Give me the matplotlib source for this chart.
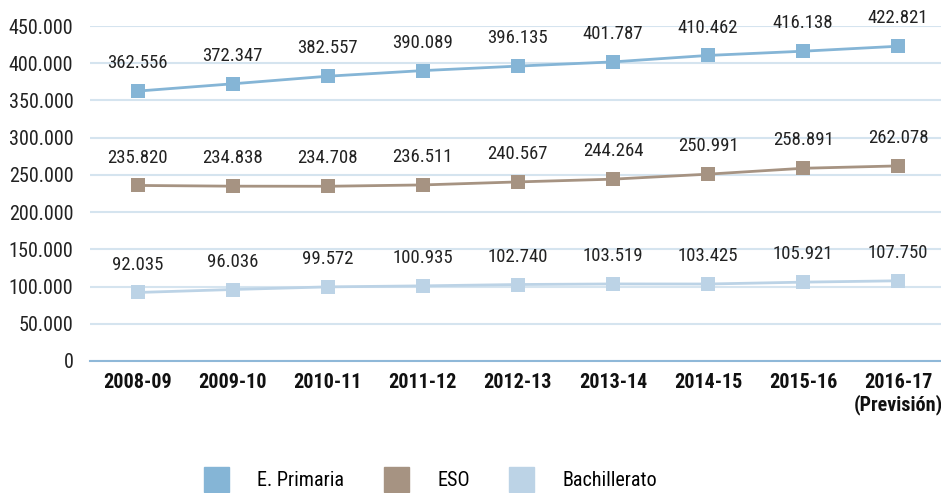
import matplotlib
matplotlib.use("Agg")
import matplotlib.pyplot as plt
from matplotlib.lines import Line2D
from matplotlib import font_manager

names = {f.name for f in font_manager.fontManager.ttflist}
fams = [n for n in ['Roboto Condensed', 'Liberation Sans Narrow', 'Arial Narrow', 'Roboto'] if n in names]
plt.rcParams['font.family'] = fams + ['DejaVu Sans']

categories = ["2008-09", "2009-10", "2010-11", "2011-12", "2012-13", "2013-14",
              "2014-15", "2015-16", "2016-17\n(Previsión)"]
primaria = [362556, 372347, 382557, 390089, 396135, 401787, 410462, 416138, 422821]
eso = [235820, 234838, 234708, 236511, 240567, 244264, 250991, 258891, 262078]
bachillerato = [92035, 96036, 99572, 100935, 102740, 103519, 103425, 105921, 107750]
series_names = ["E. Primaria", "ESO", "Bachillerato"]
colors = ["#85b5d6", "#a69382", "#bcd3e6"]
yticks = [0, 50000, 100000, 150000, 200000, 250000, 300000, 350000, 400000, 450000]

def fmt(v):
    return f"{v:,}".replace(",", ".")

fig = plt.figure(figsize=(9.41, 4.93), dpi=100)
ax = fig.add_axes([90/941, (493-361)/493, 1 - 90/941 + 0.005, (361-26)/493])

x = list(range(len(categories)))
for vals, c in zip([primaria, eso, bachillerato], colors):
    ax.plot(x, vals, color=c, lw=2, marker='s', markersize=10, markeredgewidth=0, zorder=3)
    for xi, v in zip(x, vals):
        ax.annotate(fmt(v), (xi, v), xytext=(0, 20), textcoords='offset points',
                    ha='center', va='center', fontsize=13.5, color='#222222')

ax.set_xlim(-0.5, len(categories) - 0.5)
ax.set_ylim(0, 450000)
ax.set_yticks(yticks)
ax.set_yticklabels([fmt(t) if t else "0" for t in yticks], fontsize=14.5, color='#222222')
ax.set_xticks(x)
ax.set_xticklabels(categories, fontsize=14.5, fontweight='bold', color='#111111', linespacing=1.1)
ax.tick_params(axis='both', length=0)
ax.tick_params(axis='y', pad=12)
ax.tick_params(axis='x', pad=9)
for s in ['top', 'right', 'left']:
    ax.spines[s].set_visible(False)
ax.spines['bottom'].set_color('#8fb8d8')
ax.spines['bottom'].set_linewidth(1.5)
ax.grid(axis='y', color='#d5e4ef', lw=1.5)
ax.set_axisbelow(True)

handles = [Line2D([], [], marker='s', color=c, linestyle='none', markersize=18) for c in colors]
fig.legend(handles, series_names, loc='center', bbox_to_anchor=(0.458, 0.026), ncol=3,
           frameon=False, fontsize=14.5, handlelength=1.1, handletextpad=1.5, columnspacing=2.0)

fig.savefig("out.png", dpi=100)
